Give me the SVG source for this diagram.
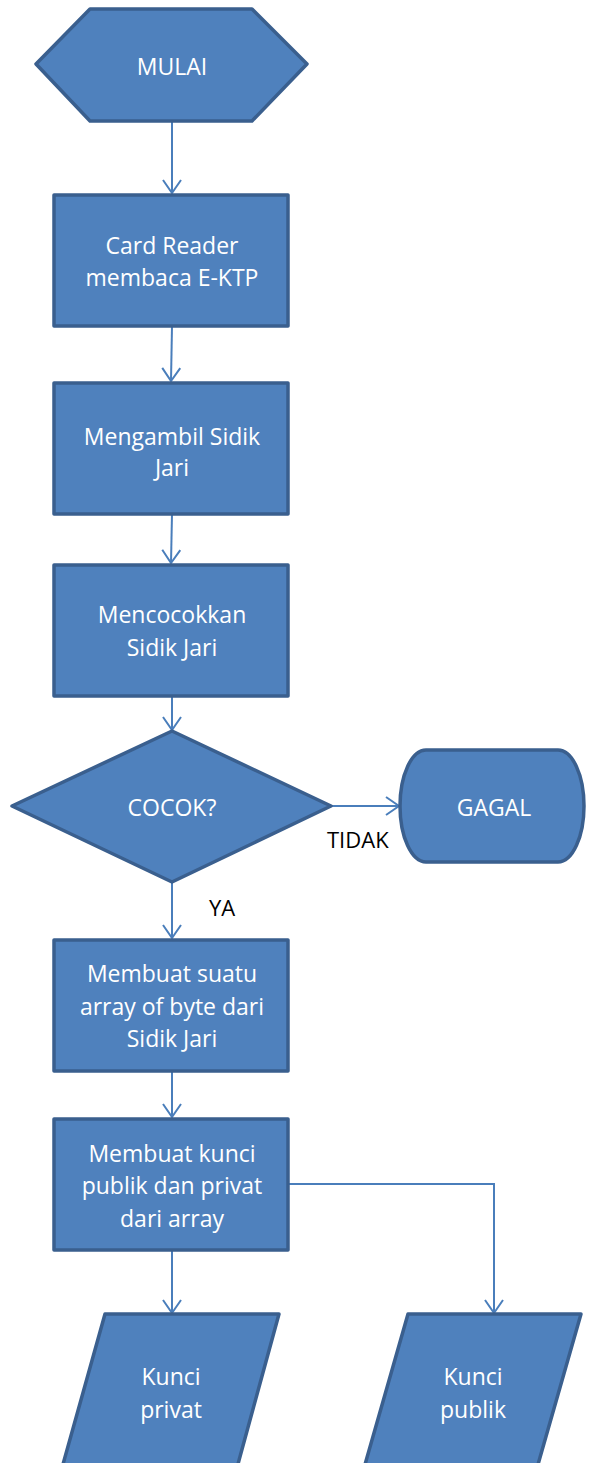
<svg xmlns="http://www.w3.org/2000/svg" width="589" height="1463" viewBox="0 0 589 1463">
<defs>
<marker id="arr" markerUnits="userSpaceOnUse" markerWidth="24" markerHeight="24" viewBox="0 0 24 24" refX="21" refY="12" orient="auto">
<path d="M8,3 L21,12 L8,21" fill="none" stroke="#4a7ebb" stroke-width="2"/>
</marker>
<style>
.n{fill:#4f81bd;stroke:#3a5f8e;stroke-width:3.5;stroke-linejoin:round}
.t{fill:#ffffff;font-family:"Open Sans","Liberation Sans",sans-serif;font-size:23px;text-anchor:middle;dominant-baseline:central}
.c{fill:none;stroke:#4a7ebb;stroke-width:2;marker-end:url(#arr)}
.l{fill:#000000;font-family:"Open Sans","Liberation Sans",sans-serif;font-size:22px}
</style>
</defs>
<g id="connectors">
<path class="c" d="M172,121 L172,193"/>
<path class="c" d="M172,326 L171,381"/>
<path class="c" d="M172,514 L171,563"/>
<path class="c" d="M172,696 L172,730"/>
<path class="c" d="M331,806 L399,806"/>
<path class="c" d="M172,882 L172,938"/>
<path class="c" d="M172,1071 L172,1117"/>
<path class="c" d="M172,1250 L172,1313"/>
<path class="c" d="M288,1184 L494,1184 L494,1313"/>
<text class="l" x="327" y="848">TIDAK</text>
<text class="l" x="209" y="916">YA</text>
</g>
<g id="mulai">
<polygon class="n" points="36,64 90,9 252,9 307,64 252,121 90,121"/>
<text class="t" x="172" y="66">MULAI</text>
</g>
<g id="card-reader">
<rect class="n" x="54" y="195" width="234" height="131"/>
<text class="t" x="172" y="245">Card Reader</text>
<text class="t" x="172" y="277">membaca E-KTP</text>
</g>
<g id="ambil-sidik">
<rect class="n" x="54" y="383" width="234" height="131"/>
<text class="t" x="172" y="436">Mengambil Sidik</text>
<text class="t" x="172" y="467">Jari</text>
</g>
<g id="cocokkan">
<rect class="n" x="54" y="565" width="234" height="131"/>
<text class="t" x="172" y="614">Mencocokkan</text>
<text class="t" x="172" y="647">Sidik Jari</text>
</g>
<g id="cocok">
<polygon class="n" points="172,731 331,806 172,882 12,806"/>
<text class="t" x="172" y="807">COCOK?</text>
</g>
<g id="gagal">
<rect class="n" x="400" y="750" width="184" height="112" rx="26" ry="56"/>
<text class="t" x="494" y="807">GAGAL</text>
</g>
<g id="array-byte">
<rect class="n" x="54" y="940" width="234" height="131"/>
<text class="t" x="172" y="973">Membuat suatu</text>
<text class="t" x="172" y="1006">array of byte dari</text>
<text class="t" x="172" y="1038">Sidik Jari</text>
</g>
<g id="buat-kunci">
<rect class="n" x="54" y="1119" width="234" height="131"/>
<text class="t" x="172" y="1153">Membuat kunci</text>
<text class="t" x="172" y="1185">publik dan privat</text>
<text class="t" x="172" y="1218">dari array</text>
</g>
<g id="kunci-privat">
<polygon class="n" points="105,1314 279,1314 235,1475 60,1475"/>
<text class="t" x="171" y="1376">Kunci</text>
<text class="t" x="171" y="1409">privat</text>
</g>
<g id="kunci-publik">
<polygon class="n" points="408,1314 581,1314 535,1475 362,1475"/>
<text class="t" x="473" y="1376">Kunci</text>
<text class="t" x="473" y="1409">publik</text>
</g>
</svg>
